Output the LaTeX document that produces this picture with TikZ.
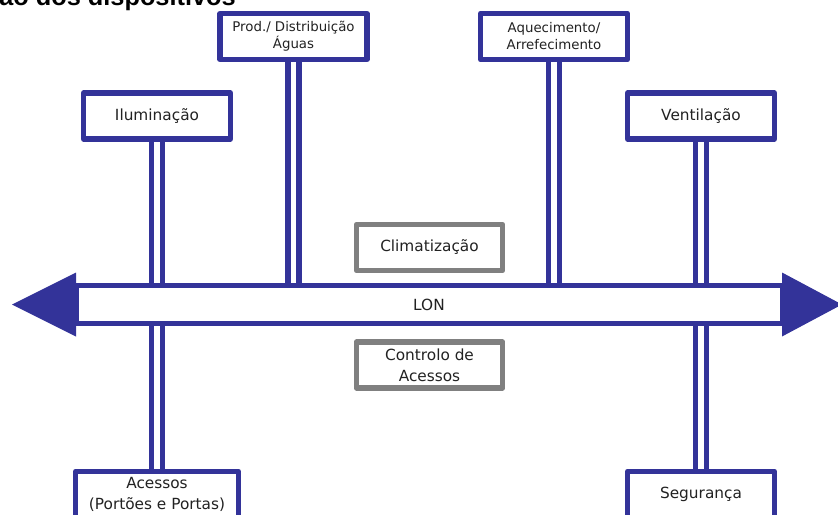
\documentclass[tikz,border=0pt]{standalone}
\usepackage{fontspec}
\setmainfont{DejaVu Sans}
\newfontfamily\titlefont{Liberation Sans}
\definecolor{lonblue}{RGB}{51,51,153}
\definecolor{boxgray}{RGB}{128,128,128}
\definecolor{ink}{RGB}{34,34,34}
\tikzset{
  device/.style={draw=lonblue, line width=4.125pt, fill=white, line join=round,
    outer sep=0pt, inner sep=0pt, minimum width=109.9pt, minimum height=34.5pt,
    align=center, text=ink, font=\fontsize{11.5}{16}\selectfont},
  smalltext/.style={font=\fontsize{10}{12.75}\selectfont},
  service/.style={device, draw=boxgray, line width=3.8pt},
  rail/.style={draw=lonblue, line width=4.125pt},
  bus/.style={draw=lonblue, line width=3.75pt, fill=white, outer sep=0pt,
    inner sep=0pt, minimum width=529.5pt, minimum height=28.5pt, text=ink,
    font=\fontsize{11.5}{16}\selectfont},
  busarrow/.style={fill=lonblue}
}
\begin{document}
\begin{tikzpicture}[x=0.75pt, y=-0.75pt]
\useasboundingbox (0,0) rectangle (838,514);

% heading (only its lower part lies inside the page)
\node[anchor=base west, inner sep=0pt, font=\titlefont\bfseries\fontsize{19}{22}\selectfont]
  (heading) at (-1,5) {ão dos dispositivos};

% the LON bus
\node[bus] (lon) at (429,304.5) {LON};
\fill[busarrow] ([yshift=24pt]lon.west) -- ([xshift=-48pt]lon.west)
  -- ([yshift=-24pt]lon.west) -- cycle;
\fill[busarrow] ([yshift=24pt]lon.east) -- ([xshift=45pt]lon.east)
  -- ([yshift=-24pt]lon.east) -- cycle;

% devices
\node[device, smalltext] (agua)  at (293.5,36.5) {Prod./ Distribuição\\Águas};
\node[device, smalltext] (aquec) at (554,36.5)   {Aquecimento/\\Arrefecimento};
\node[device] (ilum)  at (157,116)  {Iluminação};
\node[device] (vent)  at (701,116)  {Ventilação};
\node[device, minimum width=121.9pt] (acess) at (157,494.5) {Acessos\\(Portões e Portas)};
\node[device] (seg)   at (701,494.5) {Segurança};

% services on the bus
\node[service] (clim) at (429.5,247.5) {Climatização};
\node[service] (ctrl) at (429.5,365)   {Controlo de\\Acessos};

% double rails linking each device to the bus
\foreach \dev in {agua, aquec, ilum, vent} {
  \foreach \s in {-4.3pt, 4.3pt} {
    \draw[rail] ([xshift=\s]\dev.south) -- ([xshift=\s]\dev.south |- lon.north);
  }
}
\foreach \dev in {acess, seg} {
  \foreach \s in {-4.3pt, 4.3pt} {
    \draw[rail] ([xshift=\s]\dev.north) -- ([xshift=\s]\dev.north |- lon.south);
  }
}
\end{tikzpicture}
\end{document}
